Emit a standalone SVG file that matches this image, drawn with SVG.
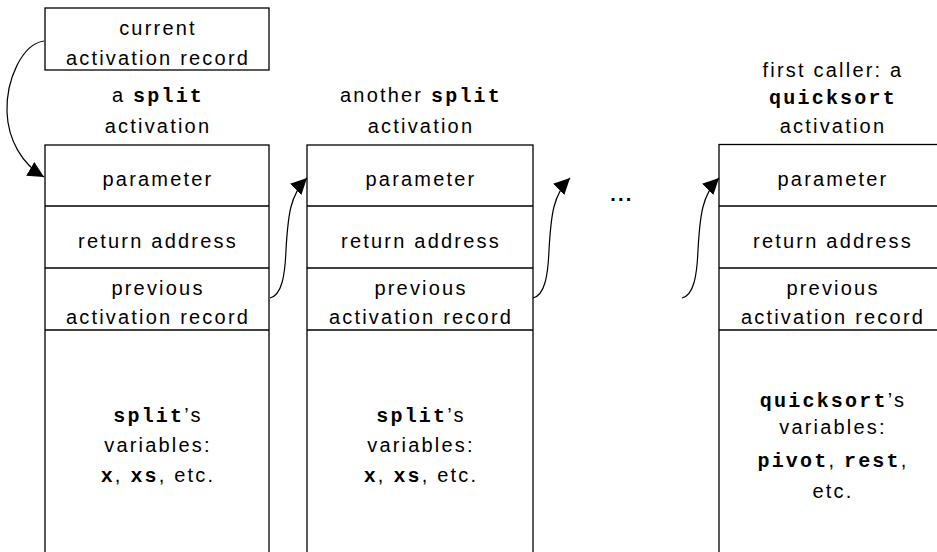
<svg xmlns="http://www.w3.org/2000/svg" width="937" height="552" viewBox="0 0 937 552">
<style>
  .box { fill: #fff; stroke: #000; stroke-width: 1.3; }
  .sep { stroke: #000; stroke-width: 1.3; }
  .t { font-family: "Liberation Sans", Arial, sans-serif; font-size: 20px; letter-spacing: 2.2px; text-anchor: middle; fill: #000; }
  .m { font-family: "Liberation Mono", "Courier New", monospace; font-weight: bold; }
  .conn { fill: none; stroke: #000; stroke-width: 1.2; }
</style>
<defs>
  <marker id="arrow" markerUnits="userSpaceOnUse" markerWidth="18" markerHeight="16" refX="16" refY="8" orient="auto">
    <path d="M0,0 L16,8 L0,16 Z" fill="#000"/>
  </marker>
</defs>
<rect width="937" height="552" fill="#fff"/>

<g id="current">
  <rect class="box" x="45" y="8" width="224" height="62"/>
  <text class="t" x="158" y="35">current</text>
  <text class="t" x="158" y="65">activation record</text>
</g>

<g id="split-activation-1">
  <text class="t" x="158" y="102">a <tspan class="m">split</tspan></text>
  <text class="t" x="158" y="133">activation</text>
  <rect class="box" x="45" y="145" width="224" height="420"/>
  <line class="sep" x1="45" y1="206" x2="269" y2="206"/>
  <line class="sep" x1="45" y1="268" x2="269" y2="268"/>
  <line class="sep" x1="45" y1="330" x2="269" y2="330"/>
  <text class="t" x="158" y="186">parameter</text>
  <text class="t" x="158" y="248">return address</text>
  <text class="t" x="158" y="295">previous</text>
  <text class="t" x="158" y="324">activation record</text>
  <text class="t" x="158" y="422"><tspan class="m">split</tspan>’s</text>
  <text class="t" x="158" y="452">variables:</text>
  <text class="t" x="158" y="482"><tspan class="m">x</tspan>, <tspan class="m">xs</tspan>, etc.</text>
</g>

<g id="split-activation-2">
  <text class="t" x="421" y="102">another <tspan class="m">split</tspan></text>
  <text class="t" x="421" y="133">activation</text>
  <rect class="box" x="307" y="145" width="226" height="420"/>
  <line class="sep" x1="307" y1="206" x2="533" y2="206"/>
  <line class="sep" x1="307" y1="268" x2="533" y2="268"/>
  <line class="sep" x1="307" y1="330" x2="533" y2="330"/>
  <text class="t" x="421" y="186">parameter</text>
  <text class="t" x="421" y="248">return address</text>
  <text class="t" x="421" y="295">previous</text>
  <text class="t" x="421" y="324">activation record</text>
  <text class="t" x="421" y="422"><tspan class="m">split</tspan>’s</text>
  <text class="t" x="421" y="452">variables:</text>
  <text class="t" x="421" y="482"><tspan class="m">x</tspan>, <tspan class="m">xs</tspan>, etc.</text>
</g>

<text id="ellipsis" class="t" x="622" y="201" style="font-weight:bold">...</text>

<g id="quicksort-activation">
  <text class="t" x="833" y="77">first caller: a</text>
  <text class="t" x="833" y="104"><tspan class="m">quicksort</tspan></text>
  <text class="t" x="833" y="133">activation</text>
  <rect class="box" x="719" y="144.5" width="226" height="420"/>
  <line class="sep" x1="719" y1="206" x2="945" y2="206"/>
  <line class="sep" x1="719" y1="268" x2="945" y2="268"/>
  <line class="sep" x1="719" y1="330" x2="945" y2="330"/>
  <text class="t" x="833" y="186">parameter</text>
  <text class="t" x="833" y="248">return address</text>
  <text class="t" x="833" y="295">previous</text>
  <text class="t" x="833" y="324">activation record</text>
  <text class="t" x="833" y="407"><tspan class="m">quicksort</tspan>’s</text>
  <text class="t" x="833" y="434">variables:</text>
  <text class="t" x="833" y="467"><tspan class="m">pivot</tspan>, <tspan class="m">rest</tspan>,</text>
  <text class="t" x="833" y="498">etc.</text>
</g>

<g id="connectors">
  <path class="conn" marker-end="url(#arrow)" d="M44,41 C22,44 6,80 7,112 C8,140 22,164 44,177"/>
  <path class="conn" marker-end="url(#arrow)" d="M270,298 C282,295 285,275 286,250 C288,215 290,195 307,178"/>
  <path class="conn" marker-end="url(#arrow)" d="M533,298 C545,295 548,275 549,250 C551,215 553,195 570,178"/>
  <path class="conn" marker-end="url(#arrow)" d="M682,298 C694,295 697,275 698,250 C700,215 702,195 719,178"/>
</g>
</svg>
